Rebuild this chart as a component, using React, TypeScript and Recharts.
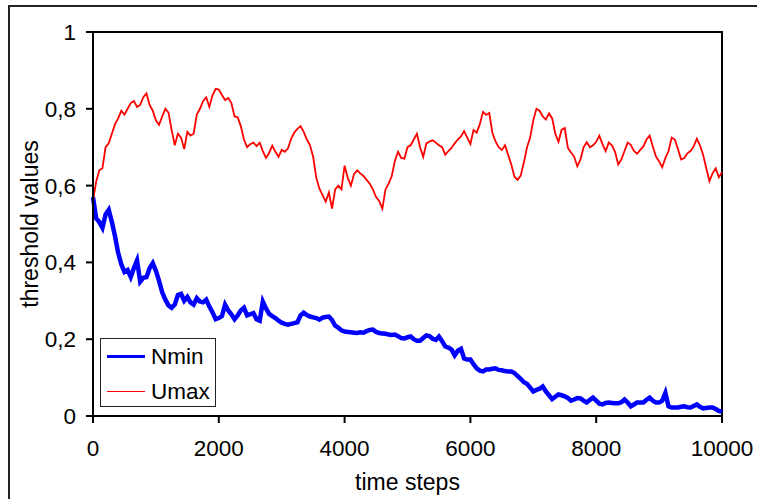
import React from "react";
import { LineChart, Line, XAxis, YAxis, ReferenceArea } from "recharts";

// time steps, every 50 from 0 to 10000
const steps = Array.from({ length: 201 }, (_, i) => i * 50);

const nmin = [
  0.57, 0.515, 0.505, 0.49, 0.525, 0.537, 0.505, 0.468, 0.425, 0.395,
  0.375, 0.38, 0.362, 0.385, 0.405, 0.35, 0.36, 0.362, 0.385, 0.398,
  0.378, 0.352, 0.322, 0.303, 0.288, 0.282, 0.29, 0.315, 0.318, 0.3,
  0.31, 0.296, 0.29, 0.307, 0.298, 0.296, 0.303, 0.285, 0.27, 0.252,
  0.255, 0.26, 0.29, 0.275, 0.265, 0.252, 0.262, 0.275, 0.282, 0.262,
  0.265, 0.268, 0.252, 0.248, 0.298, 0.28, 0.266, 0.26, 0.255, 0.248,
  0.243, 0.24, 0.238, 0.24, 0.242, 0.244, 0.262, 0.269, 0.263, 0.259,
  0.257, 0.255, 0.251, 0.256, 0.258, 0.259, 0.25, 0.235, 0.23, 0.223,
  0.22, 0.219, 0.218, 0.217, 0.216, 0.218, 0.217, 0.221, 0.224, 0.225,
  0.219, 0.216, 0.215, 0.214, 0.212, 0.211, 0.212, 0.208, 0.203, 0.202,
  0.205, 0.207, 0.2, 0.196, 0.196, 0.203, 0.21, 0.208, 0.201, 0.198,
  0.207, 0.195, 0.181, 0.178, 0.173, 0.158, 0.17, 0.175, 0.15, 0.147,
  0.147, 0.135, 0.124, 0.118, 0.116, 0.121, 0.121, 0.123, 0.124, 0.12,
  0.119, 0.117, 0.116, 0.116, 0.112, 0.104, 0.097, 0.088, 0.084, 0.074,
  0.064, 0.068, 0.071, 0.077, 0.064, 0.054, 0.044, 0.05, 0.056, 0.054,
  0.051, 0.047, 0.04, 0.043, 0.047, 0.046, 0.04, 0.035, 0.042, 0.048,
  0.04, 0.032, 0.03, 0.034, 0.035, 0.034, 0.033, 0.033, 0.036, 0.043,
  0.035, 0.025, 0.03, 0.035, 0.035, 0.035, 0.042, 0.048, 0.04, 0.035,
  0.035, 0.04, 0.06, 0.025, 0.022, 0.022, 0.022, 0.024, 0.025, 0.023,
  0.022, 0.026, 0.03, 0.024, 0.02, 0.021, 0.022, 0.022, 0.018, 0.013,
  0.012,
];

const umax = [
  0.56, 0.61, 0.64, 0.645, 0.7, 0.71, 0.735, 0.76, 0.775, 0.795,
  0.785, 0.8, 0.815, 0.82, 0.805, 0.81, 0.83, 0.84, 0.81, 0.795,
  0.77, 0.758, 0.78, 0.8, 0.79, 0.745, 0.705, 0.735, 0.725, 0.695,
  0.74, 0.73, 0.735, 0.785, 0.8, 0.82, 0.83, 0.805, 0.835, 0.852,
  0.85, 0.836, 0.823, 0.828, 0.815, 0.78, 0.778, 0.755, 0.72, 0.7,
  0.708, 0.712, 0.703, 0.712, 0.69, 0.672, 0.685, 0.704, 0.688, 0.675,
  0.693, 0.688, 0.697, 0.722, 0.738, 0.748, 0.755, 0.74, 0.72, 0.705,
  0.675, 0.62, 0.592, 0.575, 0.558, 0.582, 0.54, 0.59, 0.6, 0.59,
  0.652, 0.62, 0.6, 0.63, 0.64, 0.632, 0.625, 0.615, 0.605, 0.59,
  0.57, 0.56, 0.54, 0.59, 0.605, 0.625, 0.665, 0.688, 0.672, 0.67,
  0.7, 0.705, 0.72, 0.735, 0.7, 0.675, 0.71, 0.715, 0.718, 0.712,
  0.705, 0.7, 0.68, 0.69, 0.698, 0.71, 0.72, 0.728, 0.742, 0.725,
  0.708, 0.745, 0.738, 0.76, 0.792, 0.784, 0.789, 0.737, 0.715, 0.7,
  0.693, 0.705, 0.68, 0.655, 0.623, 0.615, 0.626, 0.66, 0.7, 0.725,
  0.77, 0.8, 0.795, 0.78, 0.772, 0.788, 0.775, 0.735, 0.714, 0.745,
  0.75, 0.698, 0.686, 0.675, 0.65, 0.668, 0.7, 0.713, 0.7, 0.705,
  0.714, 0.73, 0.708, 0.69, 0.712, 0.705, 0.688, 0.655, 0.668, 0.69,
  0.712, 0.706, 0.69, 0.683, 0.693, 0.702, 0.72, 0.73, 0.702, 0.676,
  0.663, 0.648, 0.672, 0.69, 0.725, 0.72, 0.695, 0.668, 0.672, 0.684,
  0.69, 0.702, 0.722, 0.705, 0.68, 0.645, 0.612, 0.632, 0.645, 0.622,
  0.635,
];

const xTicks = [0, 2000, 4000, 6000, 8000, 10000];
const yTicks = [0, 0.2, 0.4, 0.6, 0.8, 1];

const series = [
  { key: "nmin", name: "Nmin", color: "#0000ff", width: 4.5 },
  { key: "umax", name: "Umax", color: "#ff0000", width: 1.8 },
];

const data = steps.map((t, i) => ({ t, nmin: nmin[i], umax: umax[i] }));

const font = "'Liberation Sans', Arial, sans-serif";

export default function App() {
  return (
    <div style={{ position: "absolute", left: 0, top: 0, width: 757, height: 499, overflow: "hidden", background: "#fff" }}>
      <div style={{ position: "absolute", left: 8, top: 5, width: 800, height: 600, border: "2px solid #222" }} />
      <div style={{ position: "absolute", left: 0, top: 0 }}>
        <LineChart width={757} height={499} data={data} margin={{ top: 32, right: 35, left: 33, bottom: 52 }}>
          <XAxis
            dataKey="t"
            type="number"
            domain={[0, 10000]}
            ticks={xTicks}
            tickSize={7}
            tickMargin={17}
            height={31}
            stroke="#000"
            strokeWidth={2}
            tick={{ fill: "#000", fontSize: 22.5, fontFamily: font }}
            label={{ value: "time steps", position: "bottom", offset: 27, fill: "#000", style: { fontSize: 23, fontFamily: font } }}
          />
          <YAxis
            type="number"
            domain={[0, 1]}
            ticks={yTicks}
            tickFormatter={(v: number) => String(v).replace(".", ",")}
            tickSize={7}
            tickMargin={10}
            width={60}
            stroke="#000"
            strokeWidth={2}
            tick={{ fill: "#000", fontSize: 22.5, fontFamily: font }}
            label={{ value: "threshold values", angle: -90, position: "insideLeft", offset: -3, fill: "#000", style: { textAnchor: "middle", fontSize: 23, fontFamily: font } }}
          />
          <ReferenceArea x1={0} x2={10000} y1={0} y2={1} fill="none" stroke="#000" strokeWidth={2} />
          {series.map((s) => (
            <Line key={s.key} dataKey={s.key} name={s.name} stroke={s.color} strokeWidth={s.width} dot={false} isAnimationActive={false} />
          ))}
        </LineChart>
      </div>
      <div style={{ position: "absolute", left: 100, top: 338, width: 114, height: 67, border: "1.5px solid #222", background: "#fff", fontFamily: font, fontSize: 22.5, color: "#000" }}>
        {series.map((s) => (
          <div key={s.key} style={{ display: "flex", alignItems: "center", height: 35, paddingLeft: 6 }}>
            <div style={{ width: 38, height: s.width > 3 ? 3 : 1.2, background: s.color, marginRight: 6 }} />
            <span>{s.name}</span>
          </div>
        ))}
      </div>
    </div>
  );
}
